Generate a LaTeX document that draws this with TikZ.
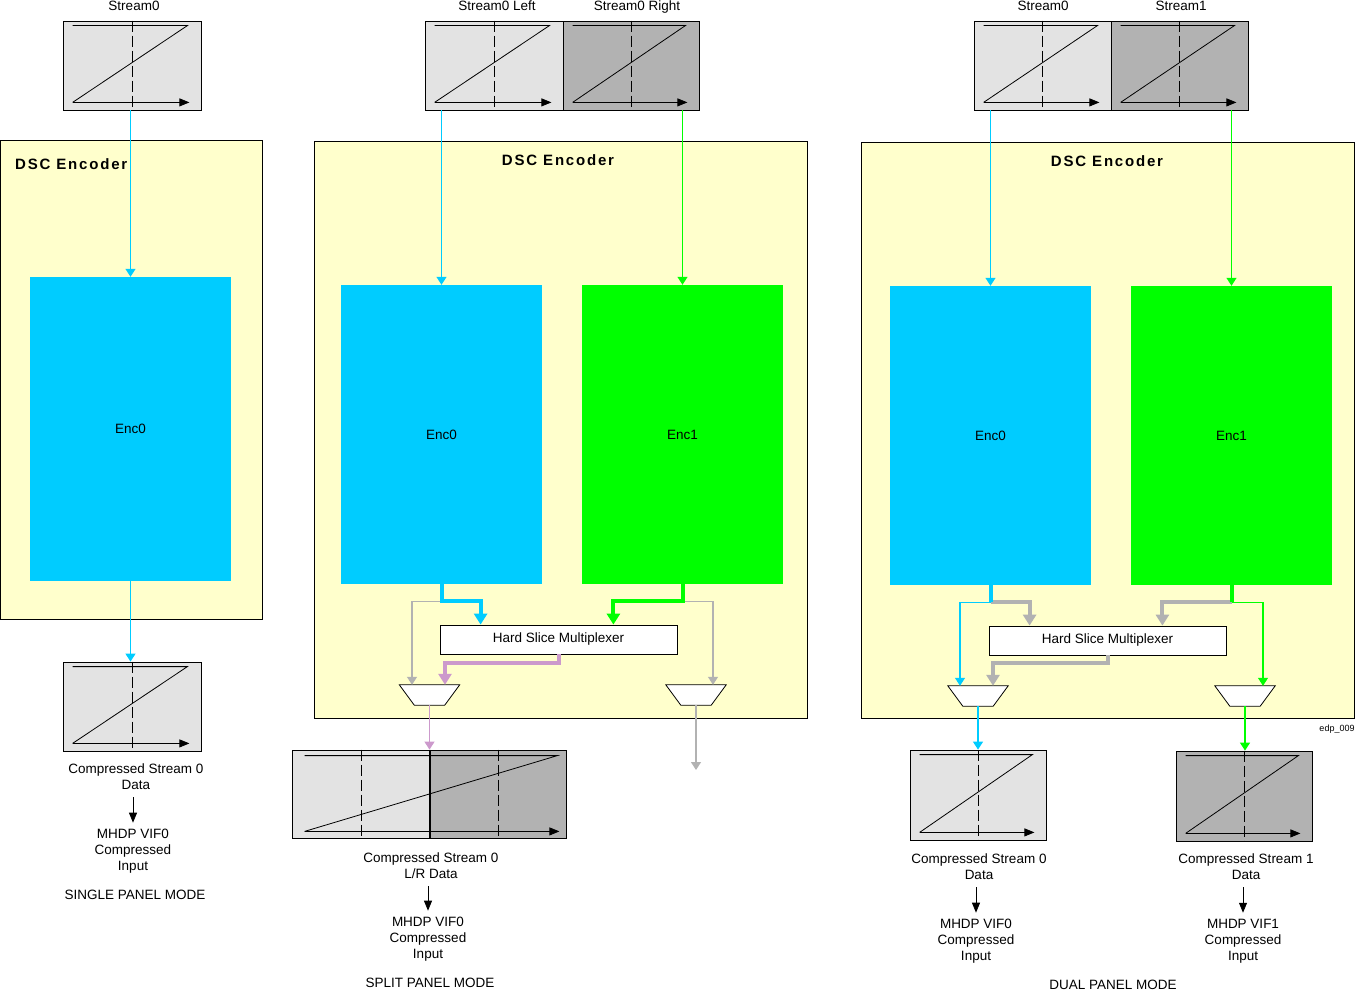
\documentclass[tikz,border=0pt]{standalone}
\usepackage{fontspec}
\setmainfont{Liberation Sans}
\usetikzlibrary{arrows.meta,calc}

\definecolor{dscyellow}{HTML}{FFFFCC}
\definecolor{enccyan}{HTML}{00CCFF}
\definecolor{encgreen}{HTML}{00FF00}
\definecolor{lgray}{HTML}{E3E3E3}
\definecolor{dgray}{HTML}{B2B2B2}
\definecolor{muxpurple}{HTML}{CC99CC}

% Z-shaped scan pattern inside a frame node
\newcommand{\zmark}[1]{%
	\draw[line width=0.8pt] ($(#1.north west)+(10,5)$) -- ($(#1.north east)+(-14,5)$) -- ($(#1.south west)+(10,-8)$);
	\draw[zarrow] ($(#1.south west)+(10,-8)$) -- ($(#1.south east)+(-12,-8)$);
	\draw[dashline] (#1.north) -- (#1.south);
}
% trapezoid outline of a mux node
\newcommand{\muxshape}[1]{%
	\draw[line width=0.8pt, fill=white] (#1.north west) -- (#1.north east) -- ($(#1.south east)+(-15,0)$) -- ($(#1.south west)+(15,0)$) -- cycle;
}

\begin{document}
\begin{tikzpicture}[x=1pt, y=-1pt,
		font=\fontsize{13.5}{16}\selectfont,
		frame/.style={draw, line width=0.8pt, minimum width=138pt, minimum height=89pt, inner sep=0pt},
		dscbox/.style={draw, line width=0.8pt, fill=dscyellow, inner sep=0pt},
		encbox/.style={minimum width=201pt, minimum height=299pt, inner sep=0pt},
		hsm/.style={draw, line width=0.8pt, fill=white, minimum width=237pt, minimum height=29pt, inner sep=0pt},
		mux/.style={minimum width=60pt, minimum height=20pt, inner sep=0pt},
		title/.style={inner sep=0pt, font=\fontsize{15}{16}\selectfont\bfseries\addfontfeature{LetterSpace=12}},
		txt/.style={align=center, inner sep=0pt},
		feed/.style={line width=1.2pt, -{Triangle[width=10pt,length=8pt]}},
		bus/.style={line width=4pt, -{Triangle[width=13pt,length=11pt]}},
		busline/.style={line width=4pt},
		zarrow/.style={line width=0.8pt, -{Triangle[width=8pt,length=10pt]}},
		outarrow/.style={line width=0.8pt, -{Triangle[width=8pt,length=10pt]}, shorten <=7pt, shorten >=6pt},
		dashline/.style={line width=0.8pt, dash pattern=on 11pt off 4pt}]
	
	\useasboundingbox (0,0) rectangle (1355,990);
	
	% --- Single panel mode ---
	\node[dscbox, minimum width=262pt, minimum height=479pt] (dscA) at (131,379.5) {};
	\node[title, anchor=west] (dscAt) at (15,164) {DSC Encoder};
	\node[frame, fill=lgray] (sA) at (132,65.5) {};
	\zmark{sA}
	\node[anchor=base] (sAt) at (134,11) {Stream0};
	\node[encbox, fill=enccyan, minimum height=304pt] (encA) at (130.5,429) {Enc0};
	\node[frame, fill=lgray] (cA) at (132,706.5) {};
	\zmark{cA}
	\draw[feed, enccyan] (encA.north |- sA.south) -- (encA.north);
	\draw[feed, enccyan] (encA.south) -- (encA.south |- cA.north);
	\node[txt] (cAt) at (136,777) {Compressed Stream 0\\Data};
	\node[txt] (vA) at (133,851) {MHDP VIF0\\Compressed\\Input};
	\draw[outarrow] (vA.north |- cAt.south) -- (vA.north);
	\node (modeA) at (135,895) {SINGLE PANEL MODE};
	
	% --- Split panel mode ---
	\node[dscbox, minimum width=493pt, minimum height=577pt] (dscB) at (560.5,429.5) {};
	\node[title] (dscBt) at (558,160) {DSC Encoder};
	\node[frame, fill=lgray] (sBL) at (494,65.5) {};
	\node[frame, fill=dgray, minimum width=136pt] (sBR) at (631,65.5) {};
	\zmark{sBL}
	\zmark{sBR}
	\node[anchor=base] (sBLt) at (497,11) {Stream0 Left};
	\node[anchor=base] (sBRt) at (637,11) {Stream0 Right};
	\node[encbox, fill=enccyan] (encB0) at (441.5,434.5) {Enc0};
	\node[encbox, fill=encgreen] (encB1) at (682.5,434.5) {Enc1};
	\node[hsm] (hsmB) at (558.5,639.5) {Hard Slice Multiplexer};
	\node[mux] (muxB0) at (429.5,695) {};
	\node[mux] (muxB1) at (696,695) {};
	\muxshape{muxB0}
	\muxshape{muxB1}
	\node[frame, fill=lgray, minimum height=88pt] (cBL) at (361,794) {};
	\node[frame, fill=dgray, minimum width=136pt, minimum height=88pt] (cBR) at (498,794) {};
	\draw[line width=0.8pt] ($(cBL.north west)+(13,6)$) -- ($(cBR.north east)+(-9,6)$) -- ($(cBL.south west)+(13,-7)$);
	\draw[zarrow] ($(cBL.south west)+(13,-7)$) -- ($(cBR.south east)+(-7,-7)$);
	\draw[dashline] (cBL.north) -- (cBL.south);
	\draw[dashline] (cBR.north) -- (cBR.south);
	\draw[line width=2pt] (cBL.north east) -- (cBL.south east);
	\coordinate (outB) at (696,770);
	
	\draw[feed, enccyan] (encB0.north |- sBL.south) -- (encB0.north);
	\draw[feed, encgreen] (encB1.north |- sBR.south) -- (encB1.north);
	\draw[feed, dgray] ([yshift=-17pt]encB0.south) -| ([xshift=-17.5pt]muxB0.north);
	\draw[feed, dgray] ([yshift=-17pt]encB1.south) -| ([xshift=17pt]muxB1.north);
	\draw[bus, enccyan] (encB0.south) -- ++(0,17) -| ([xshift=41pt]hsmB.north west);
	\draw[bus, encgreen] (encB1.south) -- ++(0,17) -| ([xshift=-64pt]hsmB.north east);
	\draw[bus, muxpurple] (hsmB.south) -- ++(0,9) -| ([xshift=15.5pt]muxB0.north);
	\draw[feed, muxpurple] (muxB0.south) -- (muxB0.south |- cBL.north);
	\draw[feed, dgray] (muxB1.south) -- (outB);
	
	\node[txt] (cBt) at (431,866) {Compressed Stream 0\\L/R Data};
	\node[txt] (vB) at (428,939) {MHDP VIF0\\Compressed\\Input};
	\draw[outarrow] (vB.north |- cBt.south) -- (vB.north);
	\node (modeB) at (430,983) {SPLIT PANEL MODE};
	
	% --- Dual panel mode ---
	\node[dscbox, minimum width=493pt, minimum height=576pt] (dscC) at (1107.5,430) {};
	\node[title] (dscCt) at (1107,161) {DSC Encoder};
	\node[frame, fill=lgray, minimum width=137pt] (sC0) at (1042.5,65.5) {};
	\node[frame, fill=dgray, minimum width=137pt] (sC1) at (1179.5,65.5) {};
	\zmark{sC0}
	\zmark{sC1}
	\node[anchor=base] (sC0t) at (1043,11) {Stream0};
	\node[anchor=base] (sC1t) at (1181,11) {Stream1};
	\node[encbox, fill=enccyan] (encC0) at (990.5,435.5) {Enc0};
	\node[encbox, fill=encgreen] (encC1) at (1231.5,435.5) {Enc1};
	\node[hsm] (hsmC) at (1107.5,640.5) {Hard Slice Multiplexer};
	\node[mux] (muxC0) at (978,696) {};
	\node[mux] (muxC1) at (1245,696) {};
	\muxshape{muxC0}
	\muxshape{muxC1}
	\node[frame, fill=lgray, minimum width=136pt, minimum height=90pt] (cC0) at (978,795) {};
	\node[frame, fill=dgray, minimum width=136pt, minimum height=90pt] (cC1) at (1244,796) {};
	\zmark{cC0}
	\zmark{cC1}
	
	\draw[feed, enccyan] (encC0.north |- sC0.south) -- (encC0.north);
	\draw[feed, encgreen] (encC1.north |- sC1.south) -- (encC1.north);
	\draw[feed, enccyan] ([yshift=-17pt]encC0.south) -| ([xshift=-18pt]muxC0.north);
	\draw[feed, encgreen] ([yshift=-17pt]encC1.south) -| ([xshift=18pt]muxC1.north);
	\draw[bus, dgray] ([yshift=-17pt]encC0.south) -| ([xshift=41pt]hsmC.north west);
	\draw[bus, dgray] ([yshift=-17pt]encC1.south) -| ([xshift=-64pt]hsmC.north east);
	\draw[busline, enccyan] (encC0.south) -- ++(0,17);
	\draw[busline, encgreen] (encC1.south) -- ++(0,17);
	\draw[bus, dgray] (hsmC.south) -- ++(0,8) -| ([xshift=15pt]muxC0.north);
	\draw[feed, enccyan] (muxC0.south) -- (muxC0.south |- cC0.north);
	\draw[feed, encgreen] (muxC1.south) -- (muxC1.south |- cC1.north);
	
	\node[txt] (cC0t) at (979,867) {Compressed Stream 0\\Data};
	\node[txt] (vC0) at (976,941) {MHDP VIF0\\Compressed\\Input};
	\draw[outarrow] (vC0.north |- cC0t.south) -- (vC0.north);
	\node[txt] (cC1t) at (1246,867) {Compressed Stream 1\\Data};
	\node[txt] (vC1) at (1243,941) {MHDP VIF1\\Compressed\\Input};
	\draw[outarrow] (vC1.north |- cC1t.south) -- (vC1.north);
	\node (modeC) at (1113,985) {DUAL PANEL MODE};
	\node[font=\fontsize{9}{10}\selectfont] (edp) at (1337,729) {edp\_009};
\end{tikzpicture}
\end{document}
